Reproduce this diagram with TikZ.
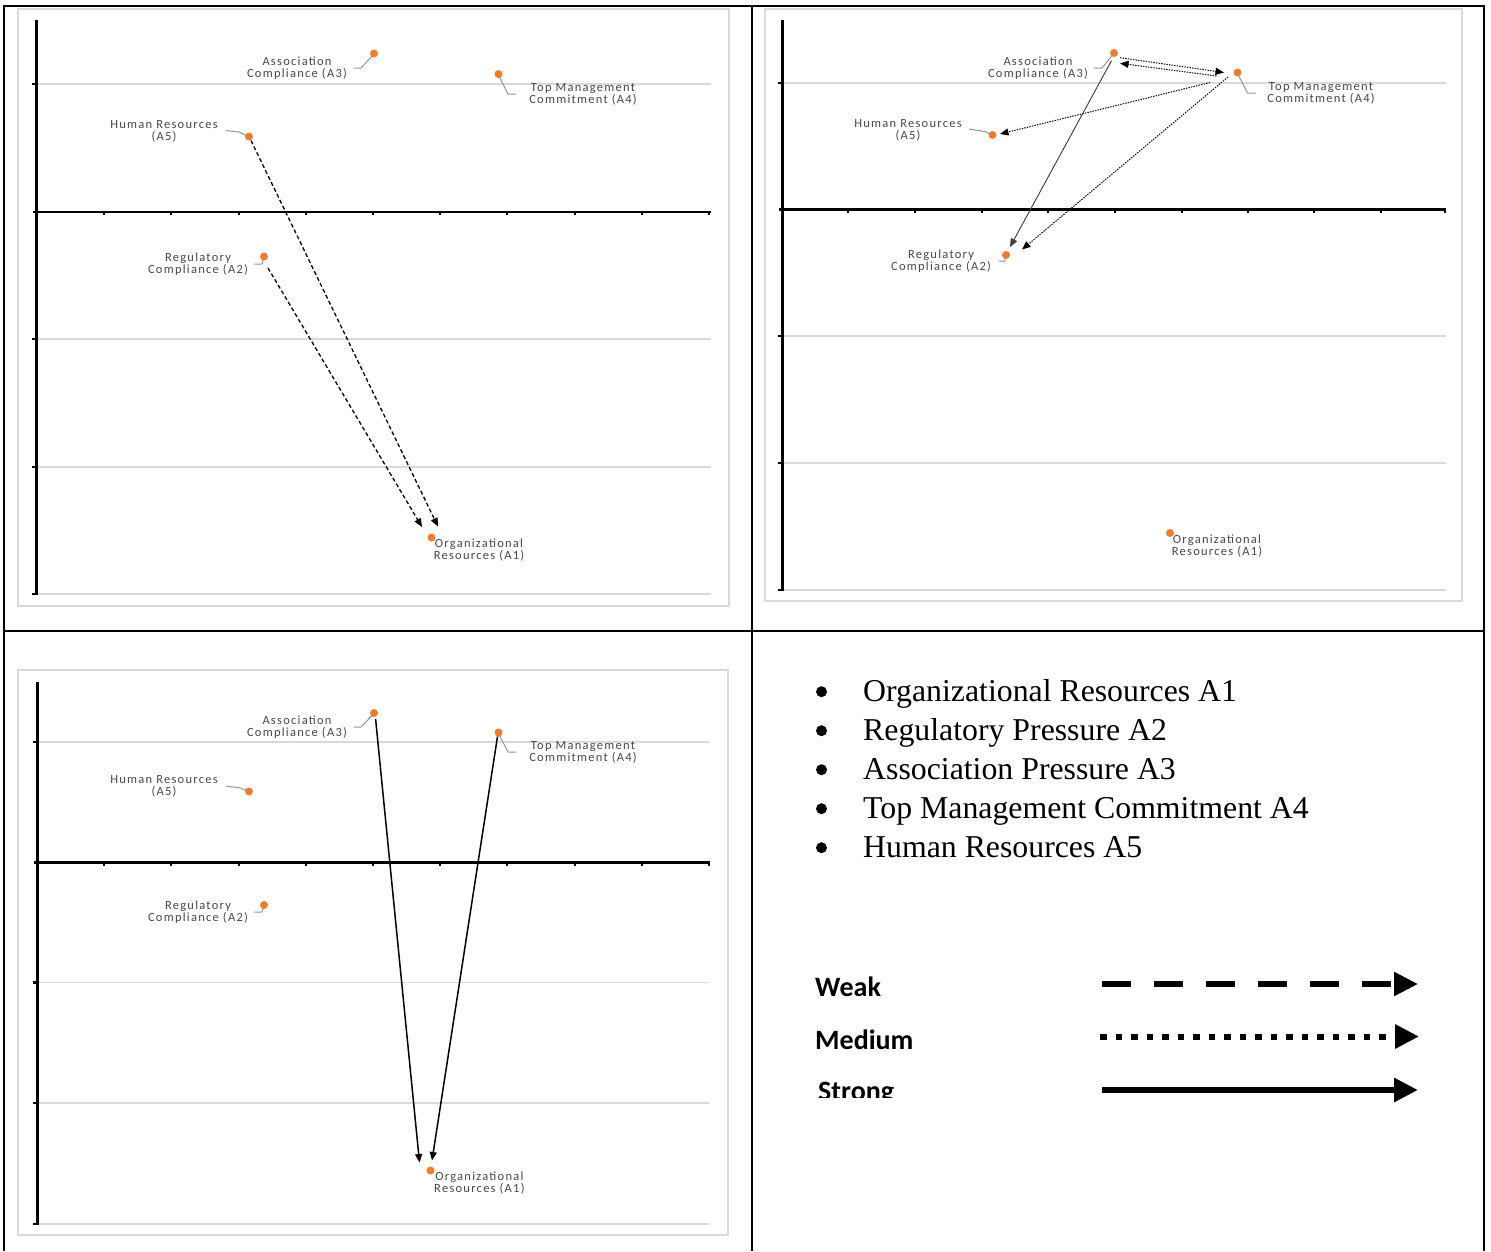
\documentclass[tikz,border=0pt]{standalone}
\usepackage{fontspec}
\setmainfont{Liberation Serif}
\newfontfamily\lblfont[LetterSpace=10]{Carlito}
\newfontfamily\legfont{Carlito}
\usetikzlibrary{arrows.meta,calc}
\definecolor{dotorange}{RGB}{237,125,49}
\definecolor{lblgray}{RGB}{72,72,72}
\definecolor{gridgray}{RGB}{217,217,217}
\definecolor{leadgray}{RGB}{150,150,150}
\tikzset{
  tablerule/.style={line width=2pt,black},
  chartframe/.style={draw=gridgray,line width=1.2pt},
  gridrule/.style={draw=gridgray,line width=1.4pt},
  yaxisrule/.style={line width=3pt,black},
  xaxisrule/.style={line width=2.4pt,black},
  tickmark/.style={line width=2.8pt,black},
  dot/.style={circle,fill=dotorange,inner sep=0pt,minimum size=8pt},
  lbl/.style={font=\lblfont\fontsize{12.5}{12}\selectfont,text=lblgray,align=center,inner sep=0pt},
  leader/.style={draw=leadgray,line width=1pt},
  tipsmall/.style={-{Triangle[length=8.5pt,width=7pt]}},
  weakarrow/.style={tipsmall,line width=1.3pt,dash pattern=on 4pt off 2.6pt},
  medarrow/.style={tipsmall,line width=1pt,dash pattern=on 1.4pt off 1.2pt},
  lightarrow/.style={tipsmall,line width=0.9pt,draw=black!75,fill=black},
  strongarrow/.style={tipsmall,line width=1.5pt},
  bullettext/.style={anchor=base west,inner sep=0pt,font=\fontsize{31.8}{39}\selectfont},
  legtext/.style={anchor=base west,inner sep=0pt,font=\legfont\bfseries\fontsize{28}{30}\selectfont},
  legtip/.style={-{Triangle[length=24pt,width=23pt]}},
}
\begin{document}
\begin{tikzpicture}[x=1pt,y=-1pt]
\useasboundingbox (0,0) rectangle (1491,1251);
\fill[white] (0,0) rectangle (1491,1251);

% ================= Panel 1 (top left) =================
\draw[chartframe] (18,9) rectangle (729,606);
\foreach \y in {84,339,467,594} \draw[gridrule] (36,\y) -- (711,\y);
\draw[xaxisrule] (33,212) -- (711,212);
\foreach \x in {104,171,239,306,373,440,507,575,642,709} \draw[tickmark] (\x,212) -- (\x,215);
\draw[yaxisrule] (36,20) -- (36,595);
\foreach \y in {84,339,467,594} \draw[tickmark] (32,\y) -- (36,\y);

\draw[leader] (374,53.5) ++(-2,2.5) -- ++(-11,12) -- ++(-7,0);
\draw[leader] (498.5,74) ++(0.5,2) -- ++(9,18) -- ++(8,0);
\draw[leader] (249,136.5) ++(-3,-1) -- ++(-7,-3.5) -- ++(-13,-1.5);
\draw[leader] (264,256.5) ++(-0.5,2.5) -- ++(-1.5,5) -- ++(-8,0);

\node[dot] (p1a3) at (374,53.5) {};
\node[dot] (p1a4) at (498.5,74) {};
\node[dot] (p1a5) at (249,136.5) {};
\node[dot] (p1a2) at (264,256.5) {};
\node[dot] (p1a1) at (431.5,537.5) {};

\node[lbl] (l1a3) at (297,68) {Association\\Compliance (A3)};
\node[lbl] (l1a4) at (583,94.5) {Top Management\\Commitment (A4)};
\node[lbl] (l1a5) at (164,131.5) {Human Resources\\(A5)};
\node[lbl] (l1a2) at (198,264) {Regulatory\\Compliance (A2)};
\node[lbl] (l1a1) at (479,550.5) {Organizational\\Resources (A1)};

\draw[weakarrow] ($(p1a5)+(2,4)$) -- ($(p1a1)+(6.5,-11)$);
\draw[weakarrow] ($(p1a2)+(4,11.5)$) -- ($(p1a1)+(-9.5,-10.5)$);

% ================= Panel 2 (top right) =================
\draw[chartframe] (765,9) rectangle (1462,601);
\foreach \y in {83,336,463,590} \draw[gridrule] (782,\y) -- (1446,\y);
\draw[xaxisrule] (779,209.5) -- (1446,209.5);
\foreach \x in {848,915,982,1048,1115,1182,1248,1314,1381,1445} \draw[tickmark] (\x,209.5) -- (\x,212.5);
\draw[yaxisrule] (782,20) -- (782,591);
\foreach \y in {83,336,463,590} \draw[tickmark] (778,\y) -- (782,\y);

\draw[leader] (1114,53) ++(-2,2.5) -- ++(-10,12.5) -- ++(-8.5,0);
\draw[leader] (1237.5,72.5) ++(0.5,2) -- ++(9.5,18.5) -- ++(8,0);
\draw[leader] (992.5,135) ++(-3,-1) -- ++(-4,-2.3) -- ++(-16.6,-2.7);
\draw[leader] (1006,255) ++(-0.5,2.5) -- ++(-0.7,3.5) -- ++(-6.3,0);

\node[dot] (p2a3) at (1114,53) {};
\node[dot] (p2a4) at (1237.5,72.5) {};
\node[dot] (p2a5) at (992.5,135) {};
\node[dot] (p2a2) at (1006,255) {};
\node[dot] (p2a1) at (1170,533) {};

\node[lbl] (l2a3) at (1038,68) {Association\\Compliance (A3)};
\node[lbl] (l2a4) at (1321,93.5) {Top Management\\Commitment (A4)};
\node[lbl] (l2a5) at (908,130.5) {Human Resources\\(A5)};
\node[lbl] (l2a2) at (941,261.5) {Regulatory\\Compliance (A2)};
\node[lbl] (l2a1) at (1217,546) {Organizational\\Resources (A1)};

\draw[medarrow] ($(p2a3)+(6,4.7)$) -- ($(p2a4)+(-13.5,0)$);
\draw[medarrow] ($(p2a4)+(-21,3.5)$) -- ($(p2a3)+(6,10.3)$);
\draw[medarrow] ($(p2a4)+(-27.5,10)$) -- ($(p2a5)+(7.5,-1)$);
\draw[lightarrow] ($(p2a3)+(-2.5,7.7)$) -- ($(p2a2)+(4,-8)$);
\draw[medarrow] ($(p2a4)+(-9.5,4.5)$) -- ($(p2a2)+(16,-5.5)$);

% ================= Panel 3 (bottom left) =================
\draw[chartframe] (18,670) rectangle (728,1235);
\foreach \y in {742,982.5,1103,1224} \draw[gridrule] (37,\y) -- (709,\y);
\draw[xaxisrule] (34,862.5) -- (710,862.5);
\foreach \x in {104,171,239,306,373,440,507,575,642,709} \draw[tickmark] (\x,862.5) -- (\x,865.5);
\draw[yaxisrule] (37,682) -- (37,1225);
\foreach \y in {742,982.5,1103,1224} \draw[tickmark] (33,\y) -- (37,\y);

\draw[leader] (374,713) ++(-2,2.5) -- ++(-11,11.5) -- ++(-7,0);
\draw[leader] (498.5,732.5) ++(0.5,2) -- ++(9,17.5) -- ++(8,0);
\draw[leader] (249,791.5) ++(-3,-1) -- ++(-7,-3) -- ++(-13,-1.2);
\draw[leader] (264,905) ++(-0.5,2.5) -- ++(-1.5,4.5) -- ++(-8,0);

\node[dot] (p3a3) at (374,713) {};
\node[dot] (p3a4) at (498.5,732.5) {};
\node[dot] (p3a5) at (249,791.5) {};
\node[dot] (p3a2) at (264,905) {};
\node[dot] (p3a1) at (430.5,1170.5) {};

\node[lbl] (l3a3) at (297,727.5) {Association\\Compliance (A3)};
\node[lbl] (l3a4) at (583,752) {Top Management\\Commitment (A4)};
\node[lbl] (l3a5) at (164,786.7) {Human Resources\\(A5)};
\node[lbl] (l3a2) at (198,912.4) {Regulatory\\Compliance (A2)};
\node[lbl] (l3a1) at (479.4,1183) {Organizational\\Resources (A1)};

\draw[strongarrow] ($(p3a3)+(1.6,6)$) -- ($(p3a1)+(-11,-8)$);
\draw[strongarrow] ($(p3a4)+(-1,4)$) -- ($(p3a1)+(1.5,-10)$);

% ================= Panel 4 (bottom right) =================
\foreach \yb in {701.7,740.7,779.7,818.7,857.7} \fill (821.5,\yb-10) circle (5.5);
\node[bullettext] (b1) at (863,701.7) {Organizational Resources A1};
\node[bullettext] (b2) at (863,740.7) {Regulatory Pressure A2};
\node[bullettext] (b3) at (863,779.7) {Association Pressure A3};
\node[bullettext] (b4) at (863,818.7) {Top Management Commitment A4};
\node[bullettext] (b5) at (863,857.7) {Human Resources A5};

\node[legtext] (lw) at (815,996) {Weak};
\node[legtext] (lm) at (815,1049) {Medium};
\begin{scope}
\clip (800,1060) rectangle (960,1097);
\node[legtext] (ls) at (818,1100) {Strong};
\end{scope}

\coordinate (wks) at (1102,984);   \coordinate (wke) at (1418,984);
\coordinate (mds) at (1100,1036.5); \coordinate (mde) at (1419,1036.5);
\coordinate (sts) at (1102,1090);  \coordinate (ste) at (1418,1090);
\draw[line width=5.5pt,dash pattern=on 29pt off 23pt,legtip] (wks) -- (wke);
\draw[line width=6pt,dash pattern=on 6.5pt off 9pt,legtip] (mds) -- (mde);
\draw[line width=6pt,legtip] (sts) -- (ste);

% ================= Table rules =================
\draw[tablerule] (3,6) -- (1485,6);
\draw[tablerule] (3,631) -- (1485,631);
\draw[tablerule] (4,5) -- (4,1251);
\draw[tablerule] (752,5) -- (752,1251);
\draw[tablerule] (1484,5) -- (1484,1251);
\end{tikzpicture}
\end{document}
